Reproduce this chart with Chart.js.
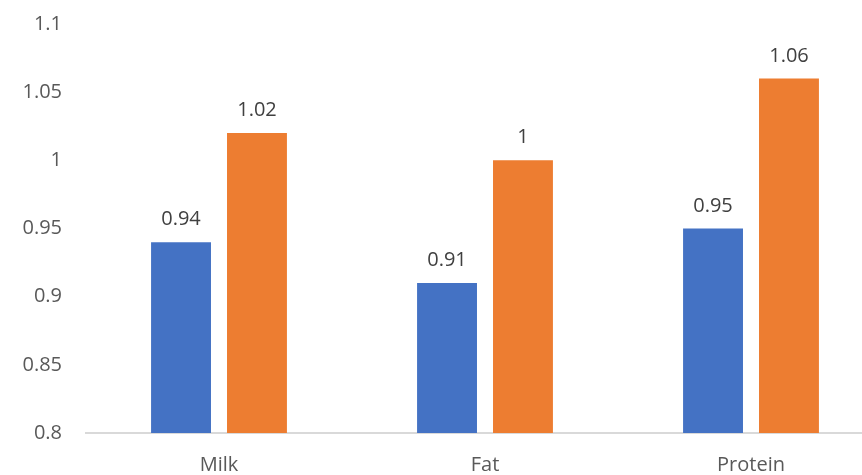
<!DOCTYPE html>
<html>
<head>
<meta charset="utf-8">
<script src="https://cdn.jsdelivr.net/npm/chart.js@4"></script>
<style>
  html, body { margin: 0; padding: 0; background: #fff; }
  #wrap { width: 862px; height: 475px; overflow: hidden; }
  #myChart { display: block; margin-top: -12px; }
</style>
</head>
<body>
<div id="wrap"><canvas id="myChart" width="900" height="487"></canvas></div>
<script>
const categorias = ["Milk", "Fat", "Protein"];
const serieAzul = [0.94, 0.91, 0.95];
const serieNaranja = [1.02, 1, 1.06];
const ticksY = [0.8, 0.85, 0.9, 0.95, 1, 1.05, 1.1];

const fuente = "'Open Sans', sans-serif";

// etiquetas de valor encima de cada barra
const etiquetasBarras = {
  id: "etiquetasBarras",
  afterDatasetsDraw(chart) {
    const ctx = chart.ctx;
    ctx.save();
    ctx.font = "20px " + fuente;
    ctx.fillStyle = "#404040";
    ctx.textAlign = "center";
    ctx.textBaseline = "alphabetic";
    chart.data.datasets.forEach((ds, i) => {
      chart.getDatasetMeta(i).data.forEach((bar, j) => {
        ctx.fillText(String(ds.data[j]), bar.x, bar.y - 17);
      });
    });
    ctx.restore();
  }
};

const config = {
  type: "bar",
  data: {
    labels: categorias,
    datasets: [
      { data: serieAzul, backgroundColor: "#4472C4" },
      { data: serieNaranja, backgroundColor: "#ED7D31" }
    ]
  },
  options: {
    responsive: false,
    animation: false,
    categoryPercentage: 0.571,
    barPercentage: 0.789,
    layout: { padding: { top: 0, right: 16, left: 0, bottom: 0 } },
    plugins: { legend: { display: false }, tooltip: { enabled: false } },
    scales: {
      x: {
        grid: { display: false, drawTicks: false },
        border: { display: true, color: "#D9D9D9", width: 2 },
        ticks: { color: "#595959", font: { family: fuente, size: 20 }, padding: 20 },
        afterFit(axis) { axis.height = 42; }
      },
      y: {
        min: 0.8,
        max: 1.1,
        afterBuildTicks(axis) {
          axis.ticks = ticksY.map(v => ({ value: v }));
        },
        afterFit(axis) { axis.width = 86; },
        grid: { display: false, drawTicks: false },
        border: { display: false },
        ticks: {
          color: "#595959",
          font: { family: fuente, size: 20 },
          padding: 24,
          callback: v => String(v)
        }
      }
    }
  },
  plugins: [etiquetasBarras]
};

new Chart(document.getElementById("myChart"), config);
</script>
</body>
</html>
